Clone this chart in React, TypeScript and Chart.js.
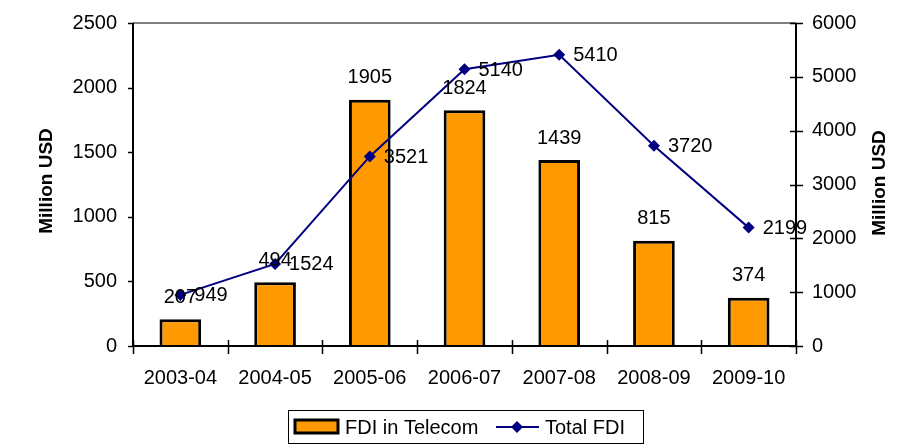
import React, { useEffect, useRef } from "react";
import Chart from "chart.js/auto";

const categories = ["2003-04", "2004-05", "2005-06", "2006-07", "2007-08", "2008-09", "2009-10"];
const fdiTelecom = [207, 494, 1905, 1824, 1439, 815, 374];
const totalFdi = [949, 1524, 3521, 5140, 5410, 3720, 2199];
const leftTicks = [0, 500, 1000, 1500, 2000, 2500];
const rightTicks = [0, 1000, 2000, 3000, 4000, 5000, 6000];
const axisTitle = "Million USD";
const legendLabels = ["FDI in Telecom", "Total FDI"];

const FONT = "'Liberation Sans', Arial, sans-serif";
const BAR_COLOR = "#FF9900";
const LINE_COLOR = "#000080";

const customPlugin = {
  id: "customDraw",
  afterDatasetsDraw(chart: any) {
    const ctx = chart.ctx;
    const area = chart.chartArea;
    const x = chart.scales.x;
    const yL = chart.scales.yL;
    const yR = chart.scales.yR;
    ctx.save();
    // top border
    ctx.strokeStyle = "#808080";
    ctx.lineWidth = 2;
    ctx.beginPath();
    ctx.moveTo(area.left, area.top);
    ctx.lineTo(area.right, area.top);
    ctx.stroke();
    // axes
    ctx.strokeStyle = "#000";
    ctx.lineWidth = 2;
    ctx.beginPath();
    ctx.moveTo(area.left, area.top);
    ctx.lineTo(area.left, area.bottom);
    ctx.lineTo(area.right, area.bottom);
    ctx.moveTo(area.right, area.top);
    ctx.lineTo(area.right, area.bottom);
    ctx.stroke();
    // ticks
    ctx.lineWidth = 1.5;
    ctx.beginPath();
    leftTicks.forEach((v) => {
      const py = Math.round(yL.getPixelForValue(v)) + 0.5;
      ctx.moveTo(area.left - 5, py);
      ctx.lineTo(area.left + 1, py);
    });
    rightTicks.forEach((v) => {
      const py = Math.round(yR.getPixelForValue(v)) + 0.5;
      ctx.moveTo(area.right - 6, py);
      ctx.lineTo(area.right + 7, py);
    });
    const n = categories.length;
    for (let i = 0; i <= n; i++) {
      const px = Math.round(x.getPixelForValue(i - 0.5)) + 0.5;
      ctx.moveTo(px, area.bottom - 6);
      ctx.lineTo(px, area.bottom + 8);
    }
    ctx.stroke();

    // data labels
    ctx.fillStyle = "#000";
    ctx.font = `20px ${FONT}`;
    const barMeta = chart.getDatasetMeta(0);
    barMeta.data.forEach((el: any, i: number) => {
      ctx.textAlign = "center";
      ctx.textBaseline = "bottom";
      ctx.fillText(String(fdiTelecom[i]), el.x, el.y - 12);
    });
    const lineMeta = chart.getDatasetMeta(1);
    lineMeta.data.forEach((el: any, i: number) => {
      ctx.textAlign = "left";
      ctx.textBaseline = "middle";
      ctx.fillText(String(totalFdi[i]), el.x + 14, el.y + 1);
    });

    // axis titles
    ctx.font = `bold 19px ${FONT}`;
    ctx.textAlign = "center";
    ctx.textBaseline = "middle";
    ctx.save();
    ctx.translate(47, 181);
    ctx.rotate(-Math.PI / 2);
    ctx.fillText(axisTitle, 0, 0);
    ctx.restore();
    ctx.save();
    ctx.translate(880, 183);
    ctx.rotate(-Math.PI / 2);
    ctx.fillText(axisTitle, 0, 0);
    ctx.restore();

    // legend
    ctx.strokeStyle = "#000";
    ctx.lineWidth = 1;
    ctx.strokeRect(288.5, 410.5, 355, 33);
    ctx.fillStyle = BAR_COLOR;
    ctx.fillRect(295, 420, 43, 13);
    ctx.lineWidth = 3;
    ctx.strokeRect(295, 420, 43, 13);
    ctx.fillStyle = "#000";
    ctx.font = `20px ${FONT}`;
    ctx.textAlign = "left";
    ctx.textBaseline = "middle";
    ctx.fillText(legendLabels[0], 345, 428);
    ctx.strokeStyle = LINE_COLOR;
    ctx.lineWidth = 2;
    ctx.beginPath();
    ctx.moveTo(496, 427);
    ctx.lineTo(539, 427);
    ctx.stroke();
    ctx.fillStyle = LINE_COLOR;
    ctx.beginPath();
    ctx.moveTo(517, 421);
    ctx.lineTo(523, 427);
    ctx.lineTo(517, 433);
    ctx.lineTo(511, 427);
    ctx.closePath();
    ctx.fill();
    ctx.fillStyle = "#000";
    ctx.fillText(legendLabels[1], 545, 428);
    ctx.restore();
  },
};

const fitY = (w: number) => (s: any) => {
  s.width = w;
  s.paddingTop = 0;
  s.paddingBottom = 0;
};

export default function App() {
  const ref = useRef<HTMLCanvasElement | null>(null);
  useEffect(() => {
    document.body.style.margin = "0";
    if (!ref.current) return;
    const chart = new Chart(ref.current, {
      type: "bar",
      data: {
        labels: categories,
        datasets: [
          {
            type: "bar",
            label: legendLabels[0],
            data: fdiTelecom,
            backgroundColor: BAR_COLOR,
            borderColor: "#000",
            borderWidth: 3,
            barPercentage: 0.44,
            categoryPercentage: 1,
            yAxisID: "yL",
            order: 2,
          },
          {
            type: "line",
            label: legendLabels[1],
            data: totalFdi,
            borderColor: LINE_COLOR,
            backgroundColor: LINE_COLOR,
            borderWidth: 2,
            pointStyle: "rectRot",
            pointRadius: 6,
            pointBorderWidth: 0,
            tension: 0,
            yAxisID: "yR",
            order: 1,
          } as any,
        ],
      },
      options: {
        responsive: false,
        devicePixelRatio: 1,
        animation: false,
        layout: { padding: { top: 23, left: 0, right: 0, bottom: 0 } },
        plugins: { legend: { display: false }, tooltip: { enabled: false } },
        scales: {
          x: {
            type: "category",
            offset: true,
            grid: { display: false, drawTicks: false },
            border: { display: false },
            ticks: { color: "#000", font: { family: FONT, size: 20 }, padding: 20, maxRotation: 0, autoSkip: false },
            afterFit: (s: any) => { s.height = 101; s.paddingLeft = 0; s.paddingRight = 0; },
          },
          yL: {
            type: "linear",
            position: "left",
            min: 0,
            max: 2500,
            afterBuildTicks: (s: any) => { s.ticks = leftTicks.map((v) => ({ value: v })); },
            grid: { display: false, drawTicks: false },
            border: { display: false },
            ticks: { color: "#000", font: { family: FONT, size: 20 }, padding: 16, callback: (v: any) => String(v) },
            afterFit: fitY(133),
          },
          yR: {
            type: "linear",
            position: "right",
            min: 0,
            max: 6000,
            afterBuildTicks: (s: any) => { s.ticks = rightTicks.map((v) => ({ value: v })); },
            grid: { display: false, drawTicks: false },
            border: { display: false },
            ticks: { color: "#000", font: { family: FONT, size: 20 }, padding: 16, callback: (v: any) => String(v) },
            afterFit: fitY(127),
          },
        },
      },
      plugins: [customPlugin],
    });
    return () => chart.destroy();
  }, []);
  return (
    <div style={{ width: 923, height: 447 }}>
      <canvas ref={ref} width={923} height={447} style={{ display: "block" }} />
    </div>
  );
}
